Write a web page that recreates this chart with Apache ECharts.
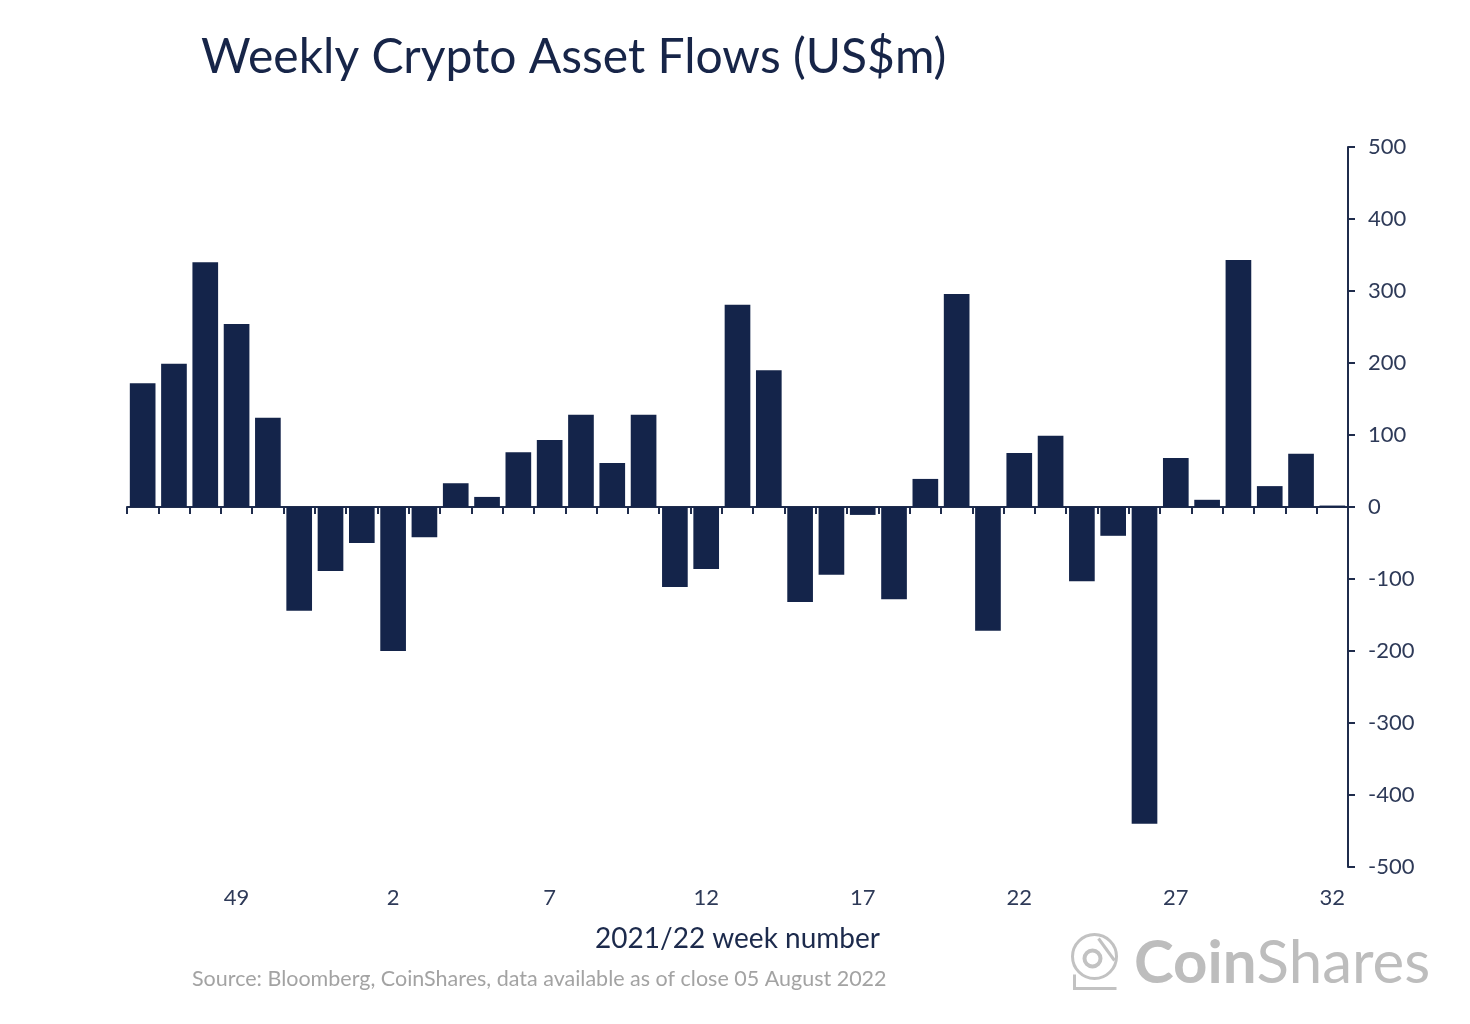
<!DOCTYPE html>
<html>
<head>
<meta charset="utf-8">
<script src="https://cdn.jsdelivr.net/npm/echarts@6/dist/echarts.min.js"></script>
<style>
html,body{margin:0;padding:0;background:#fff;}
#chart{width:1470px;height:1024px;}
</style>
</head>
<body>
<div id="chart"></div>
<script>
const weeks = ['46','47','48','49','50','51','52','1','2','3','4','5','6','7','8','9','10','11','12','13','14','15','16','17','18','19','20','21','22','23','24','25','26','27','28','29','30','31','32'];
const flows = [172,199,340,254,124,-144,-89,-50,-200,-42,33,14,76,93,128,61,128,-111,-86,281,190,-132,-94,-11,-128,39,296,-172,75,99,-103,-40,-440,68,10,343,29,74,2];
const yTicks = {min:-500, max:500, interval:100};

const navy = '#14244a';
const axisCol = '#1f2c4c';
const font = 'Lato, "Noto Sans", sans-serif';

const chart = echarts.init(document.getElementById('chart'));
chart.setOption({
  backgroundColor:'#fff',
  animation:false,
  title:{
    text:'Weekly Crypto Asset Flows (US$m)',
    left:196, top:29,
    textStyle:{fontFamily:font, fontSize:48, fontWeight:'normal', color:'#172548'}
  },
  grid:{left:127, right:122, top:147, bottom:157},
  xAxis:[
    {
      type:'category', data:weeks, position:'bottom',
      axisLine:{show:false, onZero:false}, axisTick:{show:false},
      axisLabel:{
        interval:function(i){return (i-3)%5===0;},
        margin:20, fontFamily:font, fontSize:22, color:'#2e3a58'
      },
      name:'2021/22 week number', nameLocation:'middle', nameGap:58,
      nameTextStyle:{fontFamily:font, fontSize:28, color:'#1c2a4c'}
    },
    {
      type:'category', data:weeks, position:'bottom',
      axisLine:{show:true, onZero:true, lineStyle:{color:axisCol, width:2}},
      axisTick:{show:true, alignWithLabel:false, interval:0, length:7, lineStyle:{color:axisCol, width:2}},
      axisLabel:{show:false}
    }
  ],
  yAxis:{
    type:'value', position:'right', min:yTicks.min, max:yTicks.max, interval:yTicks.interval,
    splitLine:{show:false},
    axisLine:{show:true, lineStyle:{color:axisCol, width:2}},
    axisTick:{show:true, length:7, lineStyle:{color:axisCol, width:2}},
    axisLabel:{margin:20, fontFamily:font, fontSize:22, color:'#2e3a58'}
  },
  series:[{
    type:'bar', data:flows, xAxisIndex:0,
    barCategoryGap:'18%',
    itemStyle:{color:navy}
  }],
  graphic:[
    {type:'text', left:192, top:968, style:{text:'Source: Bloomberg, CoinShares, data available as of close 05 August 2022', fontFamily:font, fontSize:21.5, fill:'#a3a3a3'}},
    {type:'group', left:1070, top:932, children:[
      {type:'circle', shape:{cx:24, cy:26, r:22}, style:{fill:'none', stroke:'#c2c2c2', lineWidth:3}},
      {type:'circle', shape:{cx:22, cy:28, r:8}, style:{fill:'none', stroke:'#c2c2c2', lineWidth:4}},
      {type:'line', shape:{x1:28, y1:8, x2:44, y2:30}, style:{stroke:'#c2c2c2', lineWidth:3}},
      {type:'polyline', shape:{points:[[4,44],[4,58],[46,58]]}, style:{fill:'none', stroke:'#c2c2c2', lineWidth:3}}
    ]},
    {type:'text', left:1134, top:934, style:{
      text:'{b|Coin}{n|Shares}',
      rich:{
        b:{fontFamily:font, fontSize:60, fontWeight:'bold', fill:'#bdbdbd', color:'#bdbdbd'},
        n:{fontFamily:font, fontSize:60, fontWeight:'normal', fill:'#bdbdbd', color:'#bdbdbd'}
      }
    }}
  ]
});
</script>
</body>
</html>
